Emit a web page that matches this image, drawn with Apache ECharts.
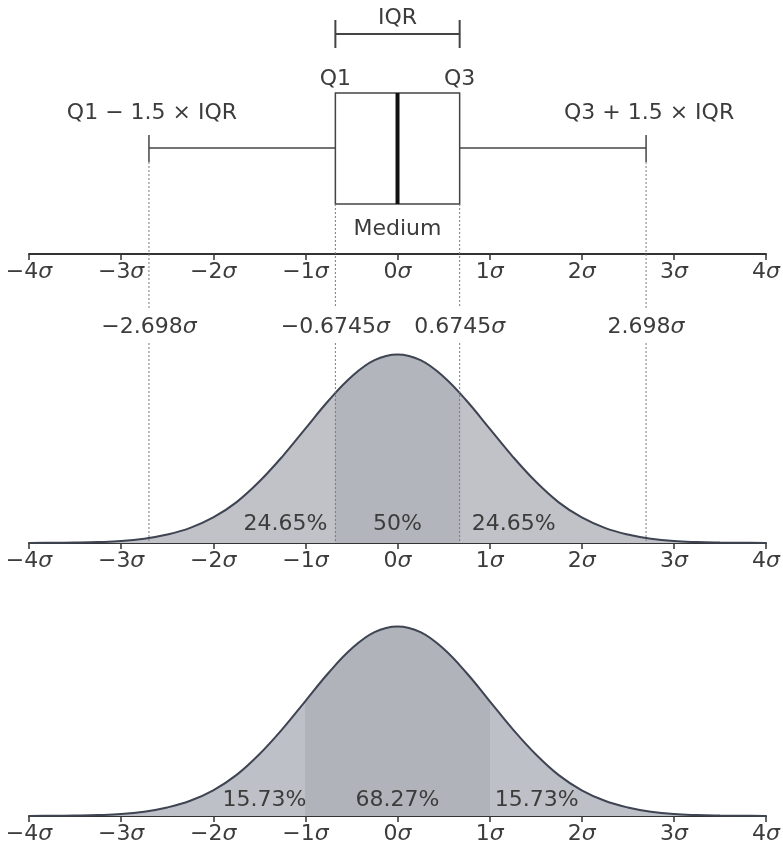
<!DOCTYPE html>
<html>
<head>
<meta charset="utf-8">
<script src="https://cdn.jsdelivr.net/npm/echarts@6/dist/echarts.min.js"></script>
<style>
  html, body { margin: 0; padding: 0; background: #fff; }
  #main { width: 783px; height: 847px; }
</style>
</head>
<body>
<div id="main"></div>
<script>
// tick labels of the three axes (sigma units)
const tickLabels = ['−4', '−3', '−2', '−1', '0', '1', '2', '3', '4']

// box plot statistics: lower whisker, Q1, median, Q3, upper whisker
const boxStats = [-2.698, -0.6745, 0, 0.6745, 2.698]
const boxNames = ['Q1 − 1.5 × IQR', 'Q1', 'Medium', 'Q3', 'Q3 + 1.5 × IQR']
const boxMarks = ['−2.698', '−0.6745', '0.6745', '2.698']

// density curve
const curveX = [-4, -3.75, -3.5, -3.25, -3, -2.75, -2.5, -2.25, -2, -1.75, -1.5, -1.25, -1, -0.75, -0.5, -0.25,
  0, 0.25, 0.5, 0.75, 1, 1.25, 1.5, 1.75, 2, 2.25, 2.5, 2.75, 3, 3.25, 3.5, 3.75, 4]
const curveY = [0.0001, 0.0004, 0.001, 0.002, 0.004, 0.009, 0.018, 0.032, 0.054, 0.086, 0.130, 0.183, 0.242, 0.301, 0.352, 0.387,
  0.399, 0.387, 0.352, 0.301, 0.242, 0.183, 0.130, 0.086, 0.054, 0.032, 0.018, 0.009, 0.004, 0.002, 0.001, 0.0004, 0.0001]

// shares of the area
const iqrBounds = [-0.6745, 0.6745]
const iqrShares = ['24.65%', '50%', '24.65%']
const sigmaBounds = [-1, 1]
const sigmaShares = ['15.73%', '68.27%', '15.73%']

const FONT = 'DejaVu Sans'
const TXT = '#3c3c3c'
const DOT = '#7a7a7a'
const curveData = curveX.map((x, i) => [x, curveY[i]])

let chart = echarts.init(document.getElementById('main'))

const rich = {
    n: { fontSize: 22, fontFamily: FONT, color: TXT },
    s: { fontSize: 22, fontFamily: FONT, color: TXT, fontStyle: 'italic' }
}

function xAxis(gridIndex) {
    return {
        gridIndex: gridIndex,
        type: 'value',
        min: -4,
        max: 4,
        interval: 1,
        axisLine: { onZero: false, lineStyle: { color: '#333', width: 2 } },
        axisTick: { length: 6, lineStyle: { color: '#333', width: 1.5 } },
        splitLine: { show: false },
        axisLabel: {
            margin: 7,
            showMinLabel: true,
            showMaxLabel: true,
            formatter: function (v) {
                return '{n|' + tickLabels[Math.round(v) + 4] + '}{s|σ}'
            },
            rich: rich
        }
    }
}

function txt(text, x, y, align) {
    return {
        type: 'text',
        style: {
            text: text, x: x, y: y,
            align: align || 'center', verticalAlign: 'middle',
            fontSize: 22, fontFamily: FONT, fill: TXT, rich: rich
        }
    }
}

function seg(x1, y1, x2, y2, style) {
    return { type: 'line', shape: { x1: x1, y1: y1, x2: x2, y2: y2 }, style: style }
}

const solid = { stroke: '#444', lineWidth: 1.5 }
const dotted = { stroke: DOT, lineWidth: 1, lineDash: [2, 2] }

// top panel: box plot and its notes
function renderBox(params, api) {
    const xs = [0, 1, 2, 3, 4].map(i => api.coord([api.value(i), 0])[0])
    const base = api.coord([0, 0])[1]
    const top = base - 161, bot = base - 50, mid = base - 106
    const kids = []
    kids.push({ type: 'rect', shape: { x: xs[1], y: top, width: xs[3] - xs[1], height: bot - top },
        style: { fill: '#fff', stroke: '#444', lineWidth: 1.5 } })
    kids.push(seg(xs[2], top, xs[2], bot, { stroke: '#111', lineWidth: 4 }))
    kids.push(seg(xs[0], mid, xs[1], mid, solid))
    kids.push(seg(xs[3], mid, xs[4], mid, solid))
    kids.push(seg(xs[0], mid - 13, xs[0], mid + 14, solid))
    kids.push(seg(xs[4], mid - 13, xs[4], mid + 14, solid))
    // IQR bracket
    kids.push(seg(xs[1], base - 220, xs[3], base - 220, { stroke: '#444', lineWidth: 2 }))
    kids.push(seg(xs[1], base - 234, xs[1], base - 206, { stroke: '#444', lineWidth: 2 }))
    kids.push(seg(xs[3], base - 234, xs[3], base - 206, { stroke: '#444', lineWidth: 2 }))
    kids.push(txt('IQR', xs[2], base - 236))
    // dotted guides
    kids.push(seg(xs[0], mid + 14, xs[0], base + 54, dotted))
    kids.push(seg(xs[4], mid + 14, xs[4], base + 54, dotted))
    kids.push(seg(xs[1], bot, xs[1], base + 54, dotted))
    kids.push(seg(xs[3], bot, xs[3], base + 54, dotted))
    // names
    kids.push(txt(boxNames[0], xs[0] + 3, base - 141))
    kids.push(txt(boxNames[1], xs[1], base - 175))
    kids.push(txt(boxNames[2], xs[2], base - 25))
    kids.push(txt(boxNames[3], xs[3], base - 175))
    kids.push(txt(boxNames[4], xs[4] + 3, base - 141))
    return { type: 'group', children: kids }
}

// middle panel: guide lines, sigma marks and shares
function renderIqr(params, api) {
    const xs = [0, 1, 3, 4].map(i => api.coord([boxStats[i], 0])[0])
    const base = api.coord([0, 0])[1]
    const kids = []
    xs.forEach((x, i) => {
        kids.push(seg(x, base - 200, x, base - 2, dotted))
        kids.push(txt('{n|' + boxMarks[i] + '}{s|σ}', x, base - 216))
    })
    const b0 = api.coord([iqrBounds[0], 0])[0], b1 = api.coord([iqrBounds[1], 0])[0]
    kids.push(txt(iqrShares[0], b0 - 8, base - 19, 'right'))
    kids.push(txt(iqrShares[1], api.coord([0, 0])[0], base - 19))
    kids.push(txt(iqrShares[2], b1 + 12, base - 19, 'left'))
    return { type: 'group', children: kids }
}

function renderSigma(params, api) {
    const base = api.coord([0, 0])[1]
    const b0 = api.coord([sigmaBounds[0], 0])[0], b1 = api.coord([sigmaBounds[1], 0])[0]
    return {
        type: 'group',
        children: [
            txt(sigmaShares[0], b0 + 1, base - 16, 'right'),
            txt(sigmaShares[1], api.coord([0, 0])[0], base - 16),
            txt(sigmaShares[2], b1 + 5, base - 16, 'left')
        ]
    }
}

function pieces(bounds, light, dark) {
    return [
        { lt: bounds[0], color: light },
        { gte: bounds[0], lte: bounds[1], color: dark },
        { gt: bounds[1], color: light }
    ]
}

let option = {
    backgroundColor: '#fff',
    animation: false,
    grid: [
        { left: 29, width: 738, top: 0, height: 254 },
        { left: 29, width: 738, top: 354, height: 189 },
        { left: 29, width: 738, top: 626, height: 190 }
    ],
    xAxis: [xAxis(0), xAxis(1), xAxis(2)],
    yAxis: [
        { gridIndex: 0, type: 'value', min: 0, max: 1, show: false },
        { gridIndex: 1, type: 'value', min: 0, max: 0.4, show: false },
        { gridIndex: 2, type: 'value', min: 0, max: 0.4, show: false }
    ],
    visualMap: [
        { type: 'piecewise', show: false, dimension: 0, seriesIndex: 1, pieces: pieces(iqrBounds, '#c0c2c8', '#b2b5bc') },
        { type: 'piecewise', show: false, dimension: 0, seriesIndex: 4, pieces: pieces(sigmaBounds, '#bdc0c6', '#b0b3ba') }
    ],
    series: [
        {
            type: 'custom', xAxisIndex: 0, yAxisIndex: 0,
            renderItem: renderBox, data: [boxStats], clip: false, silent: true
        },
        {
            type: 'line', xAxisIndex: 1, yAxisIndex: 1, data: curveData, smooth: 0.4,
            showSymbol: false, lineStyle: { width: 0 }, areaStyle: { opacity: 1 }, z: 1
        },
        {
            type: 'line', xAxisIndex: 1, yAxisIndex: 1, data: curveData, smooth: 0.4,
            showSymbol: false, lineStyle: { color: '#3e4452', width: 2 }, z: 3
        },
        {
            type: 'custom', xAxisIndex: 1, yAxisIndex: 1,
            renderItem: renderIqr, data: [[0, 0]], clip: false, silent: true, z: 4
        },
        {
            type: 'line', xAxisIndex: 2, yAxisIndex: 2, data: curveData, smooth: 0.4,
            showSymbol: false, lineStyle: { width: 0 }, areaStyle: { opacity: 1 }, z: 1
        },
        {
            type: 'line', xAxisIndex: 2, yAxisIndex: 2, data: curveData, smooth: 0.4,
            showSymbol: false, lineStyle: { color: '#3e4452', width: 2 }, z: 3
        },
        {
            type: 'custom', xAxisIndex: 2, yAxisIndex: 2,
            renderItem: renderSigma, data: [[0, 0]], clip: false, silent: true, z: 4
        }
    ]
}
chart.setOption(option)
</script>
</body>
</html>
